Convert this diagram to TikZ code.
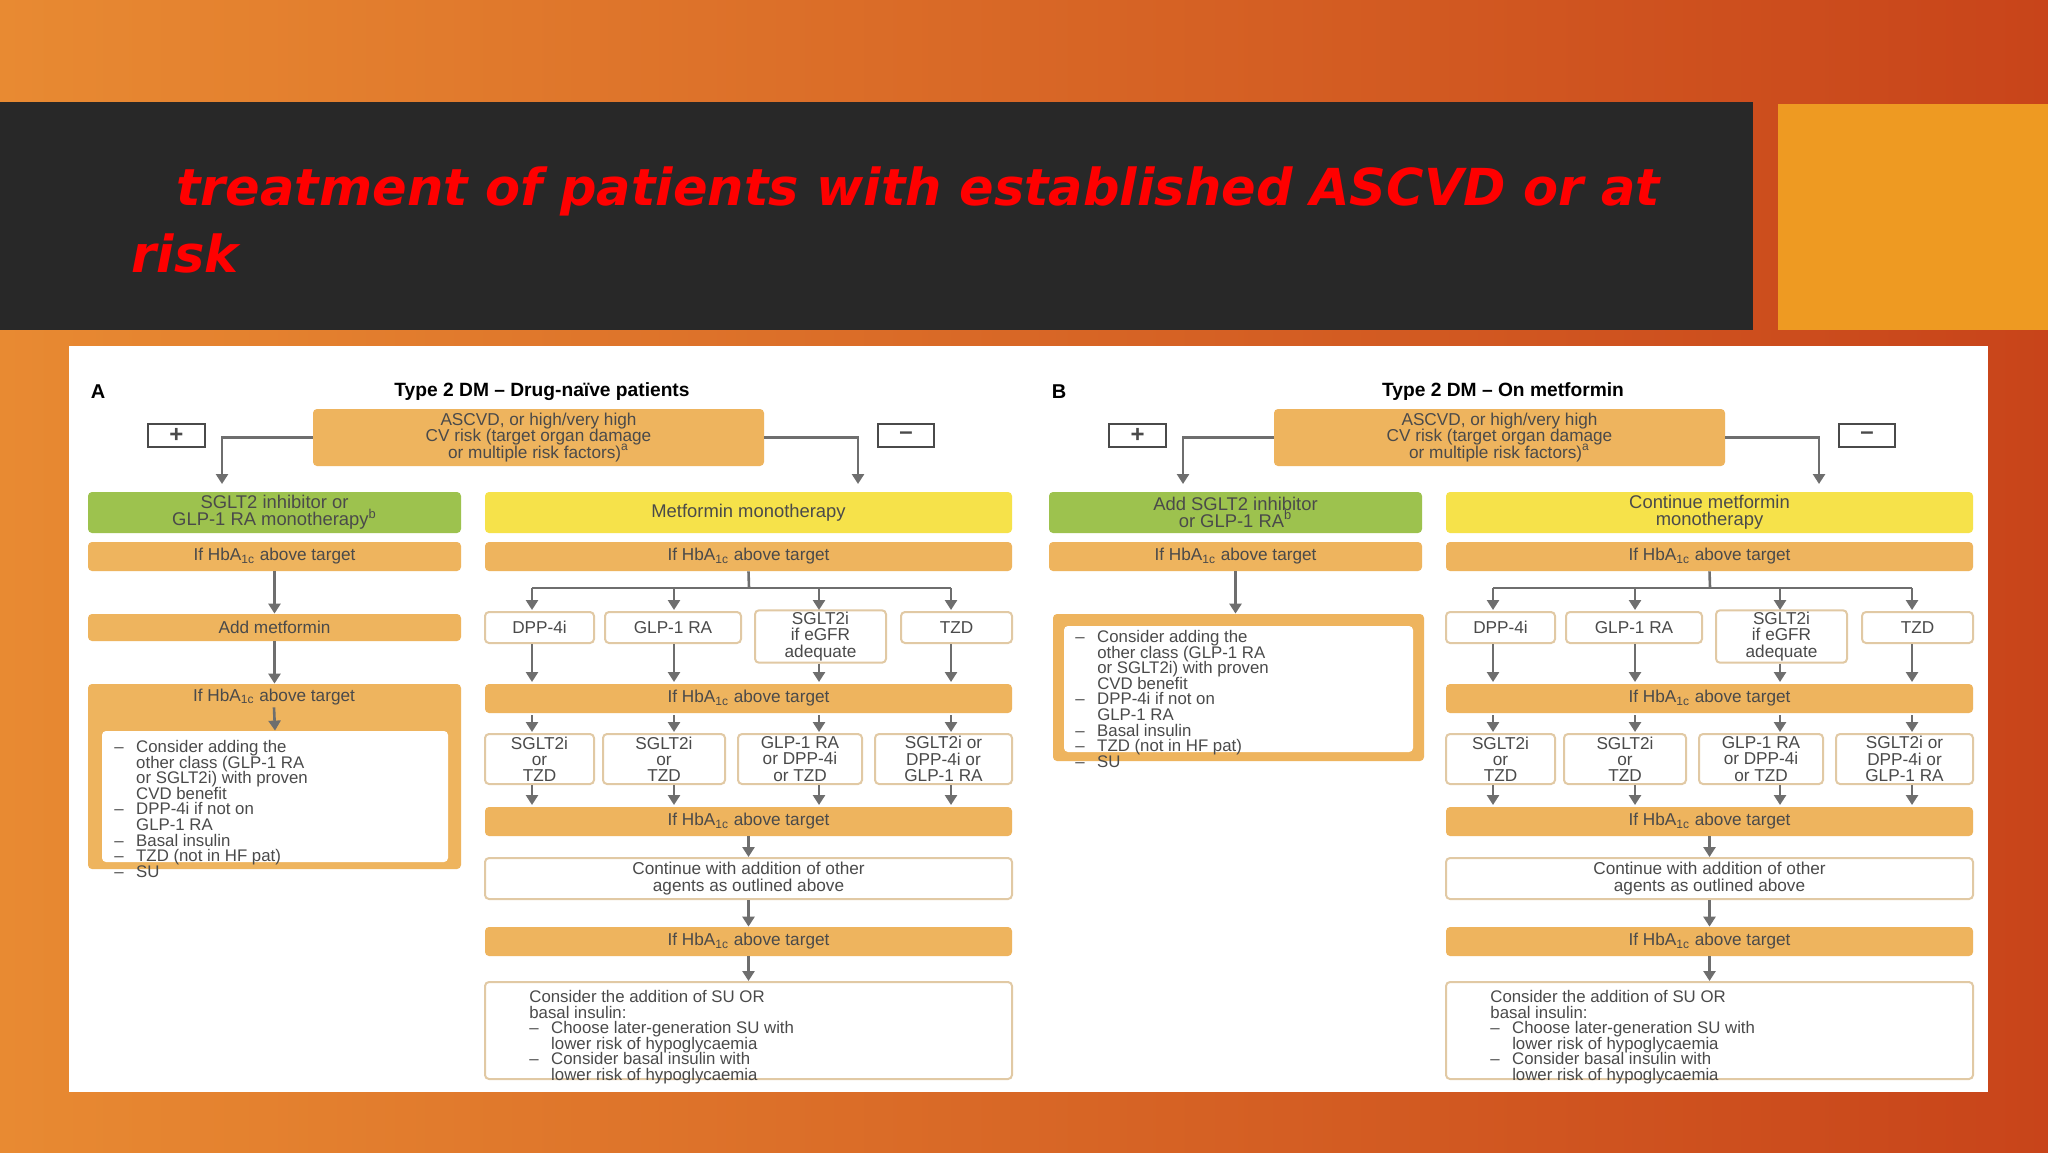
\documentclass[tikz,border=0pt]{standalone}
\usepackage{fontspec}
\setmainfont{Liberation Sans}
\newfontfamily\titlefont{DejaVu Sans}
\usetikzlibrary{arrows.meta}
\definecolor{ora}{HTML}{EEB45E}
\definecolor{grn}{HTML}{9DC24E}
\definecolor{yel}{HTML}{F6E24A}
\definecolor{txt}{HTML}{4A4A4A}
\definecolor{arrc}{HTML}{6E6E6E}
\definecolor{bandc}{HTML}{282828}
\definecolor{bg1}{HTML}{E88A32}
\definecolor{bg2}{HTML}{C8441A}
\definecolor{sq}{HTML}{EE9A22}
\newcommand\nls{\lineskiplimit=-20pt\relax}
\newcommand\bx[7]{\node[#1,minimum width={(#5-#3)*0.5pt},minimum height={(#6-#4)*0.5pt}] (#2) at ({(#3+#5)/2},{(#4+#6)/2}) {#7};}
\newcommand\hb{If HbA\textsubscript{1c} above target}
\newcommand\dsh{\makebox[1.3em][l]{--}}
\newcommand\ind{\hspace*{1.3em}}
\newcommand\lst{\dsh Consider adding the\\\ind other class (GLP-1 RA\\\ind or SGLT2i) with proven\\\ind CVD benefit\\
\dsh DPP-4i if not on\\\ind GLP-1 RA\\\dsh Basal insulin\\\dsh TZD (not in HF pat)\\\dsh SU}
\newcommand\rightcol[2]{%
\bx{ybox}{#1m}{485}{492}{1012}{533}{#2}
\bx{obox}{#1h1}{485}{542}{1012}{571}{\hb}
\coordinate (#1br) at (749,588);
\bx{wbox}{#1a1}{485}{612}{594}{643}{DPP-4i}
\bx{wbox}{#1a2}{605}{612}{741}{643}{GLP-1 RA}
\bx{wbox}{#1a3}{755}{612}{886}{661}{SGLT2i\\if eGFR\\adequate}
\bx{wbox}{#1a4}{901}{612}{1012}{643}{TZD}
\bx{obox}{#1h2}{485}{684}{1012}{713}{\hb}
\bx{wbox}{#1b1}{485}{734}{594}{784}{SGLT2i\\or\\TZD}
\bx{wbox}{#1b2}{603}{734}{725}{784}{SGLT2i\\or\\TZD}
\bx{wbox}{#1b3}{738}{734}{862}{784}{GLP-1 RA\\or DPP-4i\\or TZD}
\bx{wbox}{#1b4}{875}{734}{1012}{784}{SGLT2i or\\DPP-4i or\\GLP-1 RA}
\bx{obox}{#1h3}{485}{807}{1012}{836}{\hb}
\bx{wbox}{#1c}{485}{858}{1012}{899}{Continue with addition of other\\agents as outlined above}
\bx{obox}{#1h4}{485}{927}{1012}{956}{\hb}
\bx{wbox}{#1f}{485}{982}{1012}{1079}{}
\node[lst,anchor=north west] (#1ft) at (527,988) {Consider the addition of SU OR\\basal insulin:\\
\dsh Choose later-generation SU with\\\ind lower risk of hypoglycaemia\\
\dsh Consider basal insulin with\\\ind lower risk of hypoglycaemia};
\draw[line] (#1h1.south) -- (#1br);
\draw[line] (532,588) -- (951,588);
\foreach \i/\xx in {1/532,2/674,3/819,4/951}{
 \draw[arr] (\xx,588) -- (\xx,610);
 \draw[arr] (#1a\i.south -| \xx,0) -- (\xx,682);
 \draw[arr] (\xx,715) -- (\xx,732);
 \draw[arr] (#1b\i.south -| \xx,0) -- (\xx,805);}
\draw[arr] (#1h3.south) -- (#1c.north);
\draw[arr] (#1c.south) -- (#1h4.north);
\draw[arr] (#1h4.south) -- (#1f.north);
}
\begin{document}
\begin{tikzpicture}[x=0.5pt,y=-0.5pt,
 every node/.style={font=\fontsize{8.6}{8.1}\selectfont\nls,text=txt,inner sep=1pt},
 obox/.style={fill=ora,rounded corners=2pt,align=center},
 ybox/.style={fill=yel,rounded corners=2pt,align=center,font=\fontsize{9.2}{8.4}\selectfont\nls},
 gbox/.style={fill=grn,rounded corners=2pt,align=center,font=\fontsize{9.2}{8.4}\selectfont\nls},
 wbox/.style={fill=white,draw=ora!70!gray!60,line width=1pt,rounded corners=2pt,align=center},
 ibox/.style={fill=white,rounded corners=2pt},
 lst/.style={align=left,font=\fontsize{8.4}{7.8}\selectfont\nls},
 line/.style={draw=arrc,line width=1.3pt},
 arr/.style={line,-{Triangle[length=5pt,width=6pt]}},
 pm/.style={draw=txt,fill=white,line width=0.8pt,font=\fontsize{12}{12}\selectfont\bfseries}]
\useasboundingbox (0,0) rectangle (2048,1152);
\shade[left color=bg1,right color=bg2] (0,0) rectangle (2048,1152);
\fill[bandc] (0,102) rectangle (1753,330);
\fill[sq] (1778,104) rectangle (2048,330);
\node[anchor=base west,text=red,font=\titlefont\fontsize{25.5}{30}\selectfont\bfseries\itshape,inner sep=0] (t1) at (176,205) {treatment of patients with established ASCVD or at};
\node[anchor=base west,text=red,font=\titlefont\fontsize{25.5}{30}\selectfont\bfseries\itshape,inner sep=0] (t2) at (131,272) {risk};
\fill[white] (69,346) rectangle (1988,1092);
% Panel A
\node[font=\fontsize{10}{10}\selectfont\bfseries,text=black] (la) at (98,392) {A};
\node[font=\fontsize{9.6}{10}\selectfont\bfseries,text=black] (ta) at (542,392) {Type 2 DM -- Drug-naïve patients};
\bx{obox}{asc}{313}{409}{764}{466}{ASCVD, or high/very high\\CV risk (target organ damage\\or multiple risk factors)\textsuperscript{a}}
\bx{pm}{plus}{148}{424}{205}{447}{+}
\bx{pm}{minus}{878}{424}{934}{447}{--}
\draw[arr] (asc.west) -| (222,484);
\draw[arr] (asc.east) -| (858,484);
\bx{gbox}{g}{88}{492}{461}{533}{SGLT2 inhibitor or\\GLP-1 RA monotherapy\textsuperscript{b}}
\bx{obox}{lh1}{88}{542}{461}{571}{\hb}
\bx{obox}{lam}{88}{614}{461}{641}{Add metformin}
\bx{obox}{lh2}{88}{684}{461}{869}{}
\node (lh2t) at (274,697) {\hb};
\bx{ibox}{lin}{102}{731}{448}{862}{}
\node[lst,anchor=north west] (lint) at (112,738) {\lst};
\draw[arr] (lh1.south) -- (lam.north);
\draw[arr] (lam.south) -- (lh2.north);
\draw[arr] (lh2t.south) -- (lin.north);
\rightcol{A}{Metformin monotherapy}
% Panel B
\begin{scope}[xshift=480.5pt]
\node[font=\fontsize{10}{10}\selectfont\bfseries,text=black] (lb) at (98,392) {B};
\node[font=\fontsize{9.6}{10}\selectfont\bfseries,text=black] (tb) at (542,392) {Type 2 DM -- On metformin};
\bx{obox}{bsc}{313}{409}{764}{466}{ASCVD, or high/very high\\CV risk (target organ damage\\or multiple risk factors)\textsuperscript{a}}
\bx{pm}{bplus}{148}{424}{205}{447}{+}
\bx{pm}{bminus}{878}{424}{934}{447}{--}
\draw[arr] (bsc.west) -| (222,484);
\draw[arr] (bsc.east) -| (858,484);
\bx{gbox}{bg}{88}{492}{461}{533}{Add SGLT2 inhibitor\\or GLP-1 RA\textsuperscript{b}}
\bx{obox}{bh1}{88}{542}{461}{571}{\hb}
\bx{obox}{bo}{92}{614}{463}{761}{}
\bx{ibox}{bin}{103}{626}{452}{752}{}
\node[lst,anchor=north west] (bint) at (112,628) {\lst};
\draw[arr] (bh1.south) -- (bh1.south |- bo.north);
\rightcol{B}{Continue metformin\\monotherapy}
\end{scope}
\end{tikzpicture}
\end{document}
